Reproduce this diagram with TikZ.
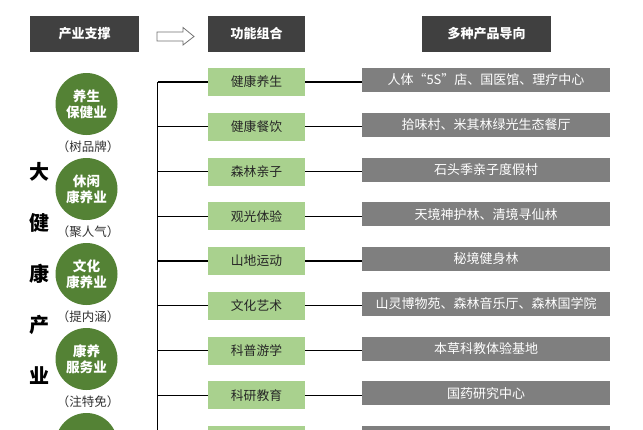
\documentclass[tikz,border=0pt]{standalone}
\usepackage{fontspec}
\setmainfont{Noto Sans CJK SC}
\usetikzlibrary{positioning}
\definecolor{headColor}{RGB}{64,64,64}
\definecolor{funcColor}{RGB}{169,209,142}
\definecolor{prodColor}{RGB}{127,127,127}
\definecolor{circleColor}{RGB}{84,130,53}
\tikzstyle{chart} = [x = 1pt, y = -1pt]
\tikzstyle{headStyle} = [fill=headColor, text=white, font=\bfseries\fontsize{13}{15}\selectfont, minimum height=36pt, inner sep=0pt]
\tikzstyle{funcStyle} = [fill=funcColor, text=black!85, font=\fontsize{12.8}{14}\selectfont, minimum width=97pt, minimum height=28pt, inner sep=0pt]
\tikzstyle{prodStyle} = [fill=prodColor, text=white, font=\fontsize{13}{14}\selectfont, minimum width=248pt, minimum height=24pt, inner sep=0pt]
\tikzstyle{circleStyle} = [circle, fill=circleColor, text=white, font=\bfseries\fontsize{13.6}{16}\selectfont, minimum size=62pt, inner sep=0pt, align=center]
\tikzstyle{tagStyle} = [text=black!80, font=\fontsize{12.5}{14}\selectfont]
\tikzstyle{bigStyle} = [text=black, font=\bfseries\fontsize{20}{22}\selectfont]
\tikzstyle{linkLine} = [color=black, line width=1.3pt]
\tikzstyle{hollowArrow} = [color=black!55, fill=white, line width=0.8pt]
\newcommand{\trunkX}{157.5}
\newcommand{\funcRow}[3]{
  \pgfmathsetmacro{\rowY}{82 + 44.75 * (#1 - 1)}
  \node [funcStyle] (g#1) at (256.5, \rowY) {#2};
  \node [prodStyle] (p#1) at (486, \rowY - 2) {#3};
  \coordinate (t#1) at (\trunkX, \rowY);
  \draw [linkLine] (t#1) -- (g#1.west);
  \draw [linkLine] (g#1.east) -- (g#1.east -| p#1.west);
}
\newcommand{\industryCircle}[3]{
  \pgfmathsetmacro{\circleY}{104 + 85 * (#1 - 1)}
  \node [circleStyle] (c#1) at (86.5, \circleY) {#2};
  \node [tagStyle] (tag#1) at (88, \circleY + 43) {#3};
}
\begin{document}
\begin{tikzpicture}[chart]
  \clip (0,0) rectangle (643,429);
  \fill [white] (0,0) rectangle (643,429);

  % headers
  \node [headStyle, minimum width=109pt] (support) at (84.5, 34) {产业支撑};
  \node [headStyle, minimum width=97pt] (function) at (256.5, 34) {功能组合};
  \node [headStyle, minimum width=129pt] (product) at (486.5, 34) {多种产品导向};
  \draw [hollowArrow] (157,32) -- (183,32) -- (183,27.5) -- (194,36.5) -- (183,45) -- (183,41) -- (157,41) -- cycle;

  % left column
  \foreach \word [count=\k] in {大,健,康,产,业} {
    \pgfmathsetmacro{\bigY}{172 + 51 * (\k - 1)}
    \node [bigStyle] (big\k) at (39, \bigY) {\word};
  }
  \industryCircle{1}{养生\\保健业}{（树品牌）}
  \industryCircle{2}{休闲\\康养业}{（聚人气）}
  \industryCircle{3}{文化\\康养业}{（提内涵）}
  \industryCircle{4}{康养\\服务业}{（注特免）}
  \node [circleStyle] (c5) at (86.5, 444) {};

  % rows
  \funcRow{1}{健康养生}{人体“5S”店、国医馆、理疗中心}
  \funcRow{2}{健康餐饮}{拾味村、米其林绿光生态餐厅}
  \funcRow{3}{森林亲子}{石头季亲子度假村}
  \funcRow{4}{观光体验}{天境神护林、清境寻仙林}
  \funcRow{5}{山地运动}{秘境健身林}
  \funcRow{6}{文化艺术}{山灵博物苑、森林音乐厅、森林国学院}
  \funcRow{7}{科普游学}{本草科教体验基地}
  \funcRow{8}{科研教育}{国药研究中心}
  \funcRow{9}{}{}
  \draw [linkLine] (t1) -- (t9);
\end{tikzpicture}
\end{document}
